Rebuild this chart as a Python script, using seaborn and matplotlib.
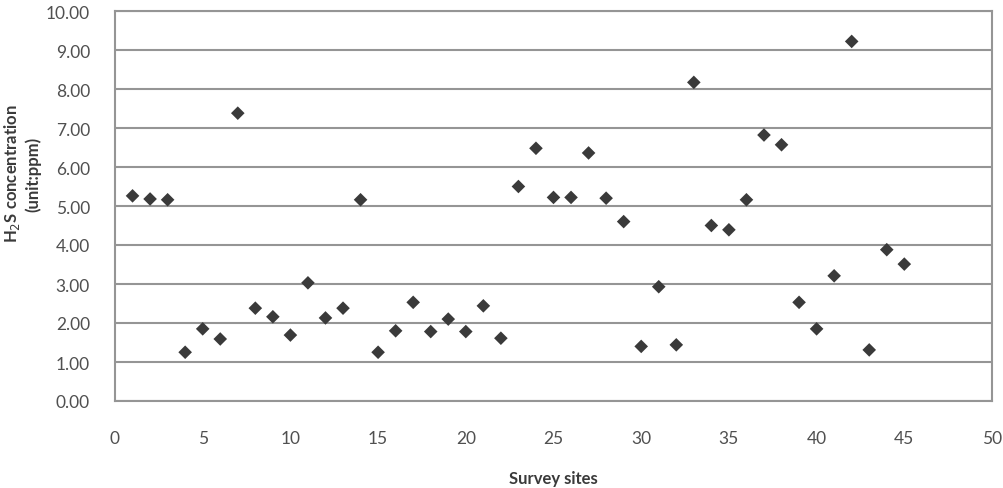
import numpy as np
import pandas as pd
import matplotlib
matplotlib.use("Agg")
import matplotlib.pyplot as plt
import seaborn as sns

# survey site numbers and measured concentrations (ppm)
sites = list(range(1, 46))
conc = [5.26, 5.18, 5.16, 1.25, 1.85, 1.59, 7.38, 2.38, 2.16, 1.69,
        3.03, 2.13, 2.38, 5.16, 1.25, 1.80, 2.53, 1.78, 2.10, 1.78,
        2.44, 1.61, 5.50, 6.48, 5.22, 5.22, 6.36, 5.20, 4.60, 1.40,
        2.93, 1.44, 8.17, 4.50, 4.39, 5.16, 6.82, 6.57, 2.53, 1.85,
        3.21, 9.22, 1.31, 3.88, 3.51]

x_ticks = [0, 5, 10, 15, 20, 25, 30, 35, 40, 45, 50]
y_ticks = [0, 1, 2, 3, 4, 5, 6, 7, 8, 9, 10]


def main():
    df = pd.DataFrame({"site": sites, "conc": conc})

    sns.set_style("white")
    plt.rcParams['font.family'] = ['Lato', 'DejaVu Sans']

    fig = plt.figure(figsize=(10.04, 4.89), dpi=100)
    ax = fig.add_axes([115 / 1004, 1 - 402 / 489, (992 - 115) / 1004, (402 - 12) / 489])

    sns.scatterplot(data=df, x="site", y="conc", marker="D", s=48,
                    color="#3a3a3a", edgecolor="none", ax=ax, zorder=3)

    ax.set_xlim(0, 50)
    ax.set_ylim(0, 10)
    ax.set_xticks(x_ticks)
    ax.set_yticks(y_ticks)
    ax.set_yticklabels([f"{v:.2f}" for v in y_ticks])
    ax.yaxis.grid(True, color="#959595", linewidth=1.5)
    ax.set_axisbelow(True)
    for sp in ax.spines.values():
        sp.set_color("#959595")
        sp.set_linewidth(1.5)
        sp.set_visible(True)

    ax.tick_params(axis="y", length=4, width=1.3, color="#959595", pad=14,
                   labelsize=12.5, labelcolor="#505050")
    ax.tick_params(axis="x", length=0, pad=21, labelsize=12.5, labelcolor="#505050")

    ax.set_xlabel("")
    ax.set_ylabel("")
    fig.text(553 / 1004, 1 - 479 / 489, "Survey sites", ha="center", va="center",
             fontsize=12, fontweight="bold", color="#3a3a3a")
    # two-line y label, pushed to the left edge like the source image
    fig.text(22 / 1004, 1 - 174 / 489, "H$_2$S concentration\n(unit:ppm)",
             ha="center", va="center", multialignment="center", linespacing=1.2,
             rotation=90, fontsize=12, fontweight="bold", color="#3a3a3a")

    fig.savefig("out.png", dpi=100)


if __name__ == "__main__":
    main()
